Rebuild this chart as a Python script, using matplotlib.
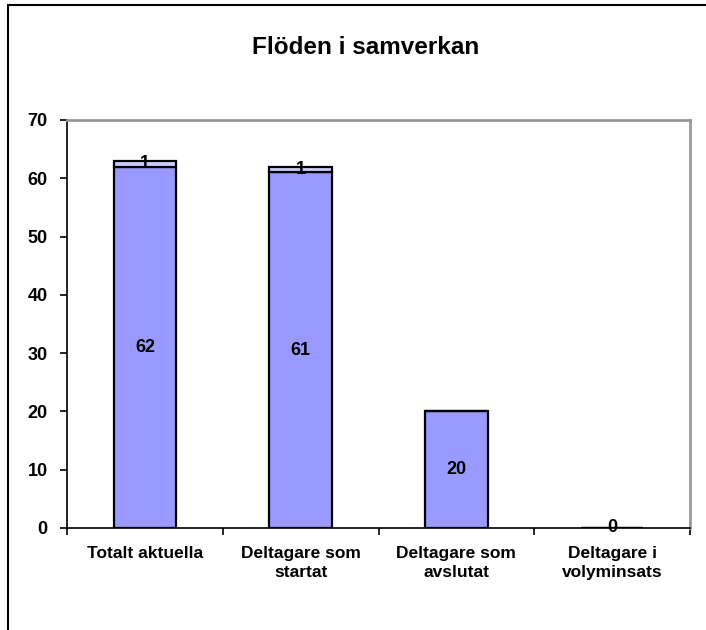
import matplotlib
matplotlib.use("Agg")
import matplotlib.pyplot as plt
from matplotlib.patches import Rectangle
import numpy as np

plt.rcParams['font.family'] = ['Liberation Sans', 'DejaVu Sans']

categories = ["Totalt aktuella", "Deltagare som\nstartat", "Deltagare som\navslutat", "Deltagare i\nvolyminsats"]
lower_values = [62, 61, 20, 0]
upper_values = [1, 1, 0, 0]
title = "Flöden i samverkan"
yticks = [0, 10, 20, 30, 40, 50, 60, 70]

fig = plt.figure(figsize=(7.06, 6.30), dpi=100)
fig.patches.append(Rectangle((8/706, -0.1), 1.2, 1 - 5/630 + 0.1, transform=fig.transFigure,
                             fill=False, edgecolor='black', linewidth=1.5))
ax = fig.add_axes([67/706, 1 - 528/630, (690 - 67)/706, (528 - 120)/630])

x = np.arange(len(categories))
w = 0.4
ax.bar(x, lower_values, w, color='#9999FF', edgecolor='black', linewidth=1.6, zorder=2)
ax.bar(x, upper_values, w, bottom=lower_values, color='#CCCCFF', edgecolor='black', linewidth=1.6, zorder=2)

for xi, lv, uv in zip(x, lower_values, upper_values):
    if lv > 0 or (lv == 0 and uv == 0):
        ax.text(xi, lv / 2, str(lv), ha='center', va='center', fontsize=13, fontweight='bold', zorder=3)
    if uv > 0:
        ax.text(xi, lv + uv / 2, str(uv), ha='center', va='center', fontsize=13, fontweight='bold', zorder=3)

ax.set_xlim(-0.5, len(categories) - 0.5)
ax.set_ylim(0, 70)
ax.set_yticks(yticks)
ax.set_yticklabels([str(v) for v in yticks], fontsize=13, fontweight='bold')
ax.set_xticks(x)
ax.set_xticklabels(categories, fontsize=12.5, fontweight='bold', linespacing=1.35)
ax.tick_params(axis='x', which='major', length=0, pad=13)
ax.set_xticks(np.arange(-0.5, len(categories), 1), minor=True)
ax.tick_params(axis='x', which='minor', length=5, width=1.2, direction='out')
ax.tick_params(axis='y', length=5, width=1.2, direction='out', pad=9)

ax.spines['left'].set_color('black')
ax.spines['left'].set_linewidth(1.2)
ax.spines['bottom'].set_color('black')
ax.spines['bottom'].set_linewidth(1.2)
ax.spines['top'].set_color('#999999')
ax.spines['top'].set_linewidth(2)
ax.spines['right'].set_color('#999999')
ax.spines['right'].set_linewidth(2)

fig.text(366 / 706, 1 - 48 / 630, title, ha='center', va='center',
         fontsize=17.5, fontweight='bold')

fig.savefig("out.png", dpi=100)
